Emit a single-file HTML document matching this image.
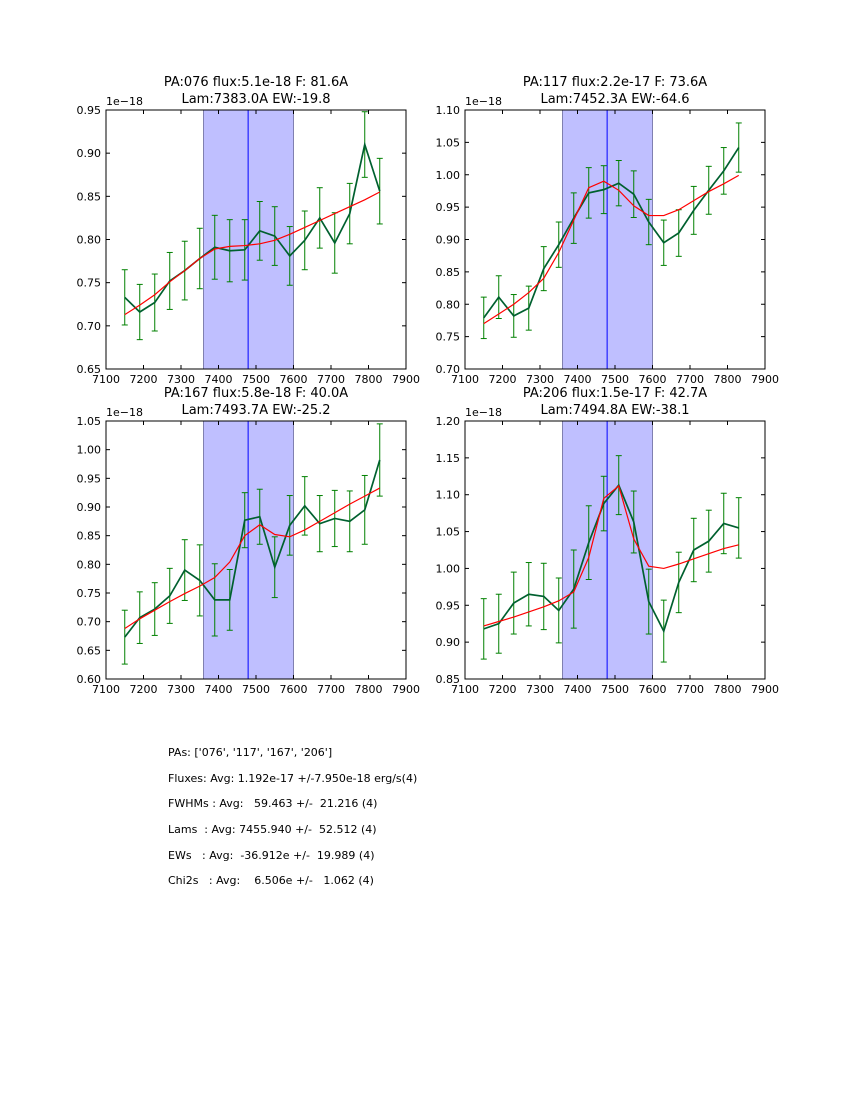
<!DOCTYPE html>
<html><head><meta charset="utf-8"><style>
body{margin:0;background:#fff;}
svg text{font-family:"DejaVu Sans","Liberation Sans",sans-serif;}
</style></head><body>
<svg id="fig" width="850" height="1100" xmlns="http://www.w3.org/2000/svg">
<rect width="850" height="1100" fill="#fff"/>
<g id="summary" font-size="11" fill="#000">
<text x="168" y="756" xml:space="preserve">PAs: ['076', '117', '167', '206']</text>
<text x="168" y="782" xml:space="preserve">Fluxes: Avg: 1.192e-17 +/-7.950e-18 erg/s(4)</text>
<text x="168" y="807" xml:space="preserve">FWHMs : Avg:   59.463 +/-  21.216 (4)</text>
<text x="168" y="833" xml:space="preserve">Lams  : Avg: 7455.940 +/-  52.512 (4)</text>
<text x="168" y="859" xml:space="preserve">EWs   : Avg:  -36.912e +/-  19.989 (4)</text>
<text x="168" y="884" xml:space="preserve">Chi2s   : Avg:    6.506e +/-   1.062 (4)</text>
</g>
</svg>
<script>
const xs=[7150,7190,7230,7270,7310,7350,7390,7430,7470,7510,7550,7590,7630,7670,7710,7750,7790,7830];
const titles1=["PA:076 flux:5.1e-18 F: 81.6A","PA:117 flux:2.2e-17 F: 73.6A","PA:167 flux:5.8e-18 F: 40.0A","PA:206 flux:1.5e-17 F: 42.7A"];
const titles2=["Lam:7383.0A EW:-19.8","Lam:7452.3A EW:-64.6","Lam:7493.7A EW:-25.2","Lam:7494.8A EW:-38.1"];
const data1=[0.733,0.716,0.727,0.752,0.764,0.778,0.791,0.787,0.788,0.810,0.804,0.781,0.799,0.825,0.796,0.830,0.910,0.856];
const err1=[0.032,0.032,0.033,0.033,0.034,0.035,0.037,0.036,0.035,0.034,0.034,0.034,0.034,0.035,0.035,0.035,0.038,0.038];
const fit1=[0.713,0.724,0.736,0.751,0.764,0.778,0.789,0.792,0.793,0.795,0.799,0.806,0.814,0.822,0.830,0.838,0.846,0.855];
const data2=[0.779,0.811,0.782,0.794,0.855,0.892,0.933,0.972,0.977,0.987,0.970,0.927,0.895,0.910,0.945,0.976,1.006,1.042];
const err2=[0.032,0.033,0.033,0.034,0.034,0.035,0.039,0.039,0.037,0.035,0.036,0.035,0.035,0.036,0.037,0.037,0.036,0.038];
const fit2=[0.770,0.785,0.800,0.818,0.840,0.880,0.930,0.980,0.990,0.976,0.952,0.937,0.937,0.946,0.960,0.974,0.986,0.999];
const data3=[0.673,0.707,0.722,0.745,0.790,0.772,0.738,0.738,0.877,0.883,0.795,0.868,0.902,0.871,0.880,0.875,0.895,0.982];
const err3=[0.047,0.045,0.046,0.048,0.053,0.062,0.063,0.053,0.048,0.048,0.053,0.052,0.051,0.049,0.049,0.053,0.060,0.063];
const fit3=[0.688,0.705,0.720,0.735,0.749,0.762,0.777,0.804,0.850,0.869,0.852,0.848,0.860,0.875,0.890,0.905,0.919,0.933];
const data4=[0.918,0.925,0.953,0.965,0.962,0.943,0.972,1.035,1.088,1.113,1.063,0.955,0.915,0.981,1.025,1.037,1.061,1.055];
const err4=[0.041,0.040,0.042,0.043,0.045,0.044,0.053,0.050,0.037,0.040,0.042,0.044,0.042,0.041,0.043,0.042,0.041,0.041];
const fit4=[0.922,0.928,0.934,0.941,0.948,0.956,0.968,1.015,1.095,1.112,1.040,1.003,1.000,1.006,1.013,1.020,1.027,1.032];
const xticks=[7100,7200,7300,7400,7500,7600,7700,7800,7900];
const yticks1=[0.65,0.70,0.75,0.80,0.85,0.90,0.95];
const yticks2=[0.70,0.75,0.80,0.85,0.90,0.95,1.00,1.05,1.10];
const yticks3=[0.60,0.65,0.70,0.75,0.80,0.85,0.90,0.95,1.00,1.05];
const yticks4=[0.85,0.90,0.95,1.00,1.05,1.10,1.15,1.20];
const spanLo=7360, spanHi=7600, lineX=7479;
const panels=[
 {x:106,y:110,d:data1,e:err1,f:fit1,yt:yticks1},
 {x:465,y:110,d:data2,e:err2,f:fit2,yt:yticks2},
 {x:106,y:421,d:data3,e:err3,f:fit3,yt:yticks3},
 {x:465,y:421,d:data4,e:err4,f:fit4,yt:yticks4}];
const NS="http://www.w3.org/2000/svg";
const fig=document.getElementById('fig');
function mk(t,a,p){const e=document.createElementNS(NS,t);for(const k in a)e.setAttribute(k,a[k]);(p||fig).appendChild(e);return e;}
panels.forEach((P,pi)=>{
 const W=300,H=258+(pi>1?0:1);
 const y0=P.yt[0],y1=P.yt[P.yt.length-1];
 const sx=v=>P.x+(v-7100)/800*W;
 const sy=v=>P.y+H-(v-y0)/(y1-y0)*H;
 const g=mk('g',{});
 
 
 const sp=mk('rect',{x:sx(spanLo),y:P.y,width:sx(spanHi)-sx(spanLo),height:H,fill:'#bfbfff',stroke:'#8080b0','stroke-width':1},g);
 
 
 const vl=mk('line',{x1:sx(lineX),x2:sx(lineX),y1:P.y,y2:P.y+H,stroke:'#0000ff','stroke-width':1},g);
 
 
 const eg=mk('g',{stroke:'#008000','stroke-width':1},g);
 
 
 xs.forEach((xv,i)=>{
  const X=sx(xv),t=sy(P.d[i]+P.e[i]),b=sy(P.d[i]-P.e[i]);
  mk('line',{x1:X,x2:X,y1:t,y2:b},eg);
  mk('line',{x1:X-3,x2:X+3,y1:t,y2:t},eg);
  mk('line',{x1:X-3,x2:X+3,y1:b,y2:b},eg);
 });
 const dl=mk('polyline',{points:xs.map((xv,i)=>sx(xv)+','+sy(P.d[i])).join(' '),fill:'none',stroke:'#00602f','stroke-width':1.7},g);
 
 
 const fl=mk('polyline',{points:xs.map((xv,i)=>sx(xv)+','+sy(P.f[i])).join(' '),fill:'none',stroke:'#ff0000','stroke-width':1.2},g);
 
 
 const ax=mk('rect',{x:P.x,y:P.y,width:W,height:H,fill:'none',stroke:'#000','stroke-width':1},g);
 
 
 xticks.forEach(t=>{
  const X=sx(t);
  mk('line',{x1:X,x2:X,y1:P.y+H,y2:P.y+H-4,stroke:'#000'},g);
  mk('line',{x1:X,x2:X,y1:P.y,y2:P.y+4,stroke:'#000'},g);
  const tx=mk('text',{x:X,y:P.y+H+14,'font-size':11,'text-anchor':'middle'},g);
  tx.textContent=t;
  
  
 });
 P.yt.forEach(t=>{
  const Y=sy(t);
  mk('line',{x1:P.x,x2:P.x+4,y1:Y,y2:Y,stroke:'#000'},g);
  mk('line',{x1:P.x+W,x2:P.x+W-4,y1:Y,y2:Y,stroke:'#000'},g);
  const tx=mk('text',{x:P.x-5,y:Y+4,'font-size':11,'text-anchor':'end'},g);
  tx.textContent=t.toFixed(2);
  
  
 });
 const off=mk('text',{x:P.x,y:P.y-5,'font-size':11},g);
 off.textContent='1e\u221218';
 
 
 const t1=mk('text',{x:P.x+W/2,y:P.y-24,'font-size':13,'text-anchor':'middle'},g);
 t1.textContent=titles1[pi];
 
 
 const t2=mk('text',{x:P.x+W/2,y:P.y-7,'font-size':13,'text-anchor':'middle'},g);
 t2.textContent=titles2[pi];
 
 
});
</script>
</body></html>
